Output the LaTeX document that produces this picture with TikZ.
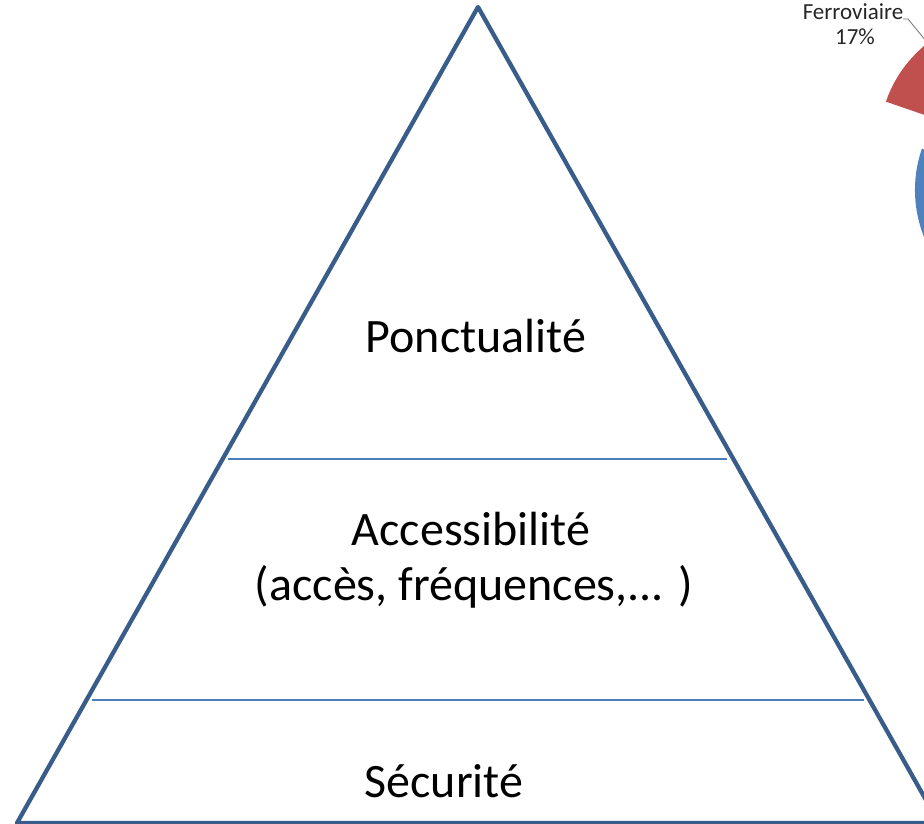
\documentclass[tikz,border=0pt]{standalone}
\usepackage{fontspec}
\setmainfont{Carlito}
\begin{document}
\begin{tikzpicture}[x=1pt,y=-1pt,
  side/.style={draw=tri, line width=4.3pt, line join=round},
  level/.style={draw=lvl, line width=1.6pt},
  bigtext/.style={font=\fontsize{48}{58}\selectfont, text=black, inner sep=0pt, anchor=base},
  smalltext/.style={font=\fontsize{23}{27}\selectfont, text=black!85, inner sep=0pt, anchor=base},
  leader/.style={draw=black!55, line width=0.8pt}]
\definecolor{tri}{HTML}{385D8A}
\definecolor{lvl}{HTML}{4A7EBB}
\definecolor{redslice}{HTML}{C0504D}
\definecolor{blueslice}{HTML}{4F81BD}
\useasboundingbox (0,0) rectangle (924,824);
\begin{scope}
\clip (0,0) rectangle (924,824);
% pie chart fragments
\fill[blueslice] (1042,190) -- ++(161:127 and -127) arc[start angle=-161, end angle=-250, radius=127] -- cycle;
\fill[redslice] (1006,143) -- ++(-161:127) arc[start angle=-161, end angle=-100, radius=127] -- cycle;
% pyramid
\coordinate (apex) at (478,7);
\coordinate (bl) at (17,823);
\coordinate (br) at (939,823);
\draw[side] (apex) -- (br) -- (bl) -- cycle;
\coordinate (l1a) at (228,459);
\coordinate (l1b) at (727,459);
\coordinate (l2a) at (92,700);
\coordinate (l2b) at (864,700);
\draw[level] (l1a) -- (l1b);
\draw[level] (l2a) -- (l2b);
% leader
\coordinate (ld0) at (903,19);
\coordinate (ld1) at (908,19);
\coordinate (ld2) at (926,41);
\draw[leader] (ld0) -- (ld1) -- (ld2);
\end{scope}
\node[bigtext] (ponct) at (476,352) {Ponctualité};
\node[bigtext] (acc1) at (471,545) {Accessibilité};
\node[bigtext] (acc2) at (474,600) {(accès, fréquences,... )};
\node[bigtext] (secu) at (444,797) {Sécurité};
\node[smalltext] (ferro) at (853,20) {Ferroviaire};
\node[smalltext] (pct) at (855,45) {17\%};
\end{tikzpicture}
\end{document}
